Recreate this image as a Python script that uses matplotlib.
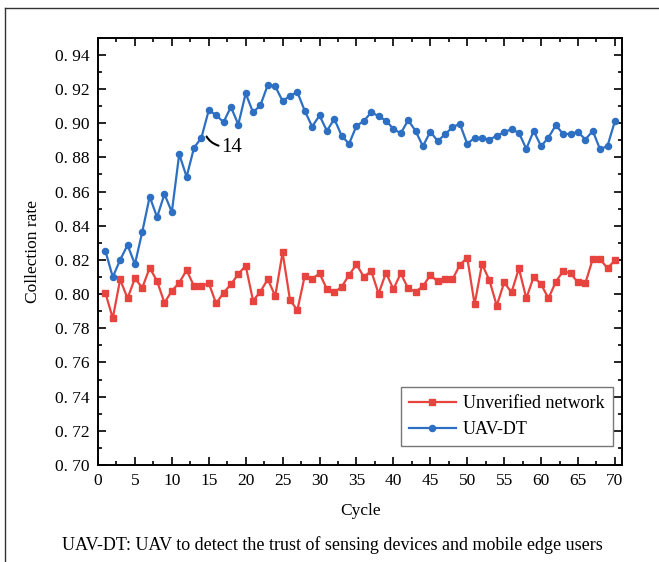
import matplotlib
matplotlib.use("Agg")
import matplotlib.pyplot as plt
from matplotlib.ticker import MultipleLocator, FuncFormatter
from matplotlib.lines import Line2D

plt.rcParams['font.family'] = ['Liberation Serif', 'DejaVu Serif']

# cycles 1..70
cycles = list(range(1, 71))

unverified = [0.8008, 0.7858, 0.8086, 0.7975, 0.8092, 0.8037, 0.8154, 0.8076, 0.7949, 0.8019,
              0.8066, 0.8140, 0.8047, 0.8047, 0.8064, 0.7945, 0.8008, 0.8057, 0.8117, 0.8166,
              0.7961, 0.8015, 0.8087, 0.7988, 0.8244, 0.7965, 0.7906, 0.8107, 0.8088, 0.8121,
              0.8029, 0.8010, 0.8043, 0.8111, 0.8174, 0.8101, 0.8135, 0.8002, 0.8125, 0.8029,
              0.8121, 0.8033, 0.8014, 0.8045, 0.8111, 0.8074, 0.8086, 0.8086, 0.8170, 0.8214,
              0.7940, 0.8175, 0.8082, 0.7932, 0.8068, 0.8010, 0.8150, 0.7975, 0.8101, 0.8058,
              0.7975, 0.8072, 0.8135, 0.8121, 0.8068, 0.8064, 0.8205, 0.8205, 0.8150, 0.8199]

uav_dt = [0.8253, 0.8100, 0.8200, 0.8287, 0.8175, 0.8365, 0.8570, 0.8450, 0.8585, 0.8480,
          0.8819, 0.8686, 0.8856, 0.8914, 0.9076, 0.9047, 0.9006, 0.9095, 0.8992, 0.9174,
          0.9063, 0.9105, 0.9225, 0.9216, 0.9129, 0.9160, 0.9181, 0.9072, 0.8980, 0.9045,
          0.8955, 0.9025, 0.8926, 0.8879, 0.8984, 0.9012, 0.9064, 0.9041, 0.9014, 0.8967,
          0.8940, 0.9018, 0.8955, 0.8865, 0.8950, 0.8896, 0.8934, 0.8977, 0.8996, 0.8879,
          0.8914, 0.8914, 0.8904, 0.8926, 0.8947, 0.8965, 0.8943, 0.8850, 0.8955, 0.8865,
          0.8916, 0.8988, 0.8936, 0.8938, 0.8949, 0.8904, 0.8955, 0.8846, 0.8867, 0.9012]

red = '#E8443F'
blue = '#2D6FC2'

fig = plt.figure(figsize=(6.59, 5.62), dpi=100)
ax = fig.add_axes([0.1487, 0.1726, 0.7956, 0.7603])

ax.plot(cycles, unverified, color=red, lw=1.6, marker='s', ms=4.2, label='Unverified network')
ax.plot(cycles, uav_dt, color=blue, lw=1.6, marker='o', ms=4.4, label='UAV-DT')

ax.set_xlim(0, 71)
ax.set_ylim(0.70, 0.95)
ax.xaxis.set_major_locator(MultipleLocator(5))
ax.xaxis.set_minor_locator(MultipleLocator(2.5))
ax.yaxis.set_major_locator(MultipleLocator(0.02))
ax.yaxis.set_minor_locator(MultipleLocator(0.01))
ax.yaxis.set_major_formatter(FuncFormatter(lambda v, p: f"{v:.2f}".replace('.', '. ')))
ax.tick_params(which='both', direction='in', top=True, right=True, labelsize=12.5, width=1.2)
ax.tick_params(which='major', length=6, pad=6)
ax.tick_params(which='minor', length=3)
for s in ax.spines.values():
    s.set_linewidth(1.4)

ax.set_xlabel('Cycle', fontsize=12.5, labelpad=10)
ax.set_ylabel('Collection rate', fontsize=12.5, labelpad=10)

# label pointing at cycle 14
ax.annotate('14', xy=(14.7, 0.8922), xytext=(16.7, 0.8858), fontsize=15, va='center', ha='left',
            arrowprops=dict(arrowstyle='-', lw=1.5, color='black', shrinkA=0, shrinkB=0,
                            connectionstyle='angle3,angleA=0,angleB=-60'))

leg = ax.legend(loc='lower right', bbox_to_anchor=(0.982, 0.044), fontsize=13, frameon=True,
                fancybox=False, edgecolor='#555555', handlelength=2.6, borderpad=0.45,
                labelspacing=0.5, handletextpad=0.4, borderaxespad=0)
leg.get_frame().set_linewidth(1.0)

fig.text(0.505, 0.03, 'UAV-DT: UAV to detect the trust of sensing devices and mobile edge users',
         ha='center', va='center', fontsize=13)

# outer frame lines (top and left)
fig.add_artist(Line2D([5 / 659, 1.0], [1 - 8 / 562, 1 - 8 / 562], transform=fig.transFigure,
                      color='#333333', lw=1.0))
fig.add_artist(Line2D([5 / 659, 5 / 659], [0.0, 1 - 8 / 562], transform=fig.transFigure,
                      color='#333333', lw=1.0))

fig.savefig('out.png', dpi=100)
